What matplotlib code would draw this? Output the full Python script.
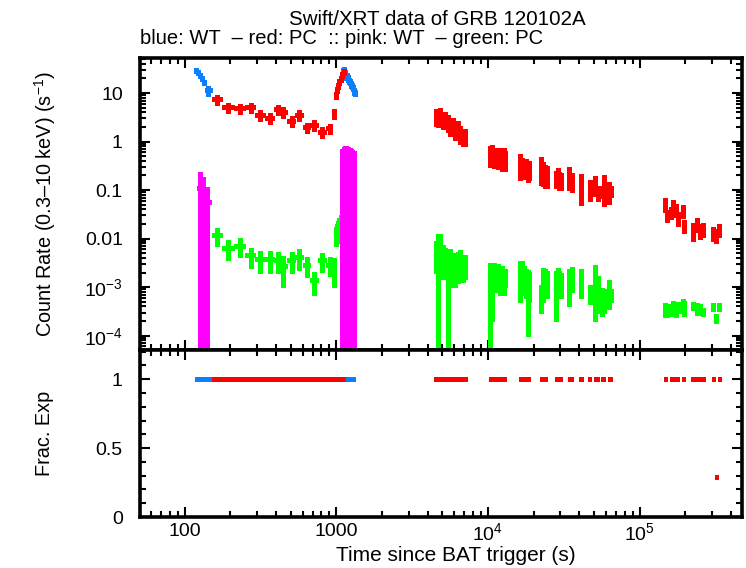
import numpy as np
import matplotlib
matplotlib.use("Agg")
import matplotlib.pyplot as plt
from matplotlib.ticker import LogLocator, NullFormatter, FixedLocator, FixedFormatter, MultipleLocator

plt.rcParams['font.family'] = ['Liberation Sans', 'DejaVu Sans']
plt.rcParams['mathtext.fontset'] = 'custom'
plt.rcParams['mathtext.rm'] = 'Liberation Sans'
plt.rcParams['mathtext.it'] = 'Liberation Sans:italic'
plt.rcParams['mathtext.bf'] = 'Liberation Sans:bold'
plt.rcParams['mathtext.default'] = 'regular'

# ---------------- data ----------------
title = "Swift/XRT data of GRB 120102A"
subtitle = "blue: WT  \u2013 red: PC  :: pink: WT  \u2013 green: PC"
ylabel_top = "Count Rate (0.3\u201310 keV) (s$^{-1}$)"
ylabel_bot = "Frac. Exp"
xlabel = "Time since BAT trigger (s)"

x_ticks = [100, 1000, 1e4, 1e5]
x_ticklabels = ["100", "1000", "10$^{4}$", "10$^{5}$"]
y_ticks = [1e-4, 1e-3, 0.01, 0.1, 1, 10]
y_ticklabels = ["10$^{-4}$", "10$^{-3}$", "0.01", "0.1", "1", "10"]
fe_ticks = [0, 0.5, 1]
fe_ticklabels = ["0", "0.5", "1"]

# WT (blue)
blue_start = [118, 121.5, 125, 128.5, 132, 135.5,
              1080, 1100, 1120, 1140, 1160, 1180, 1200, 1220, 1240, 1260, 1280, 1300, 1320]
blue_stop = [121.5, 125, 128.5, 132, 135.5, 151,
             1100, 1120, 1140, 1160, 1180, 1200, 1220, 1240, 1260, 1280, 1300, 1320, 1340]
blue_t = [119.7, 123.2, 126.7, 130.2, 133.7, 143,
          1090, 1110, 1130, 1150, 1170, 1190, 1210, 1230, 1250, 1270, 1290, 1310, 1330]
blue_rate = [30, 27, 23, 20, 17, 11.5,
             22, 28, 30, 26, 22, 20, 18, 17, 15, 14, 13, 11, 10]
blue_err = [3.5, 3.2, 2.8, 2.4, 2.0, 2.8,
            3.3, 4.2, 4.5, 3.9, 3.3, 3.0, 2.7, 2.6, 2.3, 2.1, 2.0, 1.7, 1.5]
blue_fracexp = [1, 1, 1, 1, 1, 1,
                1, 1, 1, 1, 1, 1, 1, 1, 1, 1, 1, 1, 1]

# PC bins (shared by red and green)
pc_start = [152, 178, 212, 252, 293, 340, 390, 430, 476, 538, 604, 676, 757, 853, 937,
            988, 1005, 1020, 1040, 1060, 1085, 1115,
            4440, 4610, 4780, 4960, 5140, 5330, 5530, 5740, 5960, 6190, 6430, 6680, 6950,
            10200, 10500, 10820, 11140, 11480, 11820, 12170, 12530, 12860,
            16100, 16550, 17000, 17500, 18000, 18500,
            22100, 22750, 23400, 24050,
            27700, 28450, 29200, 29950,
            33900, 35100,
            39900,
            45800,
            50100, 52100,
            55800, 57500,
            61900, 63900,
            145000, 148700,
            159000, 164500, 170000, 175500,
            191000, 195500,
            218000, 231000, 244000, 257000,
            299000, 313000, 328000]
pc_stop = [178, 212, 252, 293, 340, 390, 430, 476, 538, 604, 676, 757, 853, 937, 988,
           1005, 1020, 1040, 1060, 1085, 1115, 1150,
           4610, 4780, 4960, 5140, 5330, 5530, 5740, 5960, 6190, 6430, 6680, 6950, 7260,
           10500, 10820, 11140, 11480, 11820, 12170, 12530, 12860, 13200,
           16550, 17000, 17500, 18000, 18500, 19000,
           22750, 23400, 24050, 24700,
           28450, 29200, 29950, 30700,
           35100, 36300,
           42400,
           47900,
           52100, 54100,
           57500, 59200,
           63900, 65900,
           148700, 152500,
           164500, 170000, 175500, 181000,
           195500, 200000,
           231000, 244000, 257000, 270000,
           313000, 328000, 343000]
pc_t = [163, 194, 232, 273, 314, 366, 415, 447, 508, 570, 638, 716, 801, 908, 966,
        996, 1012, 1030, 1050, 1072, 1100, 1132,
        4525, 4695, 4870, 5050, 5235, 5430, 5635, 5850, 6075, 6310, 6555, 6815, 7105,
        10350, 10660, 10980, 11310, 11650, 11995, 12350, 12695, 13030,
        16325, 16775, 17250, 17750, 18250, 18750,
        22425, 23075, 23725, 24375,
        28075, 28825, 29575, 30325,
        34500, 35700,
        41150,
        46850,
        51100, 53100,
        56650, 58350,
        62900, 64900,
        146850, 150600,
        161750, 167250, 172750, 178250,
        193250, 197750,
        224500, 237500, 250500, 263500,
        306000, 320500, 335500]

red_rate = [7.4, 5.07, 4.84, 5.07, 3.52, 3.1, 4.61, 4.12, 2.69, 3.52, 1.96, 2.19, 1.59, 1.87, 3.81,
            9, 11.5, 14, 17, 20, 24, 27,
            3.4, 3.2, 3.6, 2.9, 3.0, 2.6, 2.1, 2.2, 1.8, 1.9, 1.5, 1.3, 1.3,
            0.55, 0.6, 0.5, 0.52, 0.48, 0.5, 0.45, 0.5, 0.45,
            0.36, 0.32, 0.3, 0.3, 0.27, 0.28,
            0.3, 0.25, 0.22, 0.21,
            0.18, 0.2, 0.17, 0.16,
            0.2, 0.16,
            0.13,
            0.11,
            0.135, 0.09,
            0.095, 0.127,
            0.1, 0.097,
            0.0525, 0.031,
            0.035, 0.047, 0.04, 0.027,
            0.038, 0.0185,
            0.015, 0.02, 0.015, 0.016,
            0.013, 0.012, 0.0155]
red_err = [1.85, 1.27, 1.21, 1.27, 0.88, 0.78, 1.15, 1.03, 0.67, 0.88, 0.49, 0.55, 0.40, 0.47, 0.95,
           1.3, 1.6, 2.0, 2.4, 2.8, 3.3, 3.8,
           1.3, 1.2, 1.4, 1.1, 1.1, 1.0, 0.8, 0.85, 0.7, 0.75, 0.6, 0.5, 0.5,
           0.25, 0.27, 0.22, 0.23, 0.21, 0.22, 0.2, 0.22, 0.2,
           0.2, 0.14, 0.13, 0.13, 0.12, 0.12,
           0.17, 0.13, 0.11, 0.1,
           0.07, 0.08, 0.07, 0.06,
           0.1, 0.07,
           0.08,
           0.05,
           0.06, 0.03,
           0.025, 0.08,
           0.048, 0.024,
           0.017, 0.0085,
           0.0097, 0.015, 0.012, 0.009,
           0.012, 0.0052,
           0.006, 0.006, 0.005, 0.005,
           0.004, 0.004, 0.0045]
red_fracexp = [1, 1, 1, 1, 1, 1, 1, 1, 1, 1, 1, 1, 1, 1, 1,
               1, 1, 1, 1, 1, 1, 1,
               1, 1, 1, 1, 1, 1, 1, 1, 1, 1, 1, 1, 1,
               1, 1, 1, 1, 1, 1, 1, 1, 1,
               1, 1, 1, 1, 1, 1,
               1, 1, 1, 1,
               1, 1, 1, 1,
               1, 1,
               1,
               1,
               1, 1,
               1, 1,
               1, 1,
               1, 1,
               1, 1, 1, 1,
               1, 1,
               1, 1, 1, 1,
               1, 0.29, 1]

green_rate = [0.0117, 0.0064, 0.0072, 0.0045, 0.0038, 0.0038, 0.0037, 0.0027, 0.0036, 0.0042, 0.0029, 0.0014, 0.0036, 0.0029, 0.0025,
              0.012, 0.014, 0.016, 0.019, 0.022, 0.02, 0.018,
              0.0055, 0.006, 0.0072, 0.0045, 0.0040, 0.0030, 0.0035, 0.0030, 0.0028, 0.0032, 0.0035, 0.0030, 0.0030,
              0.0015, 0.0016, 0.0020, 0.0018, 0.0019, 0.0016, 0.0017, 0.0015, 0.0017,
              0.0020, 0.0022, 0.0017, 0.0015, 0.0012, 0.0013,
              0.0007, 0.0015, 0.0016, 0.0014,
              0.0012, 0.0016, 0.0014, 0.0013,
              0.0014, 0.0017,
              0.0015,
              0.00078,
              0.0015, 0.0010,
              0.0006, 0.0006,
              0.00088, 0.0007,
              3.6e-4, 3.4e-4,
              3.5e-4, 4.2e-4, 3.6e-4, 3.9e-4,
              4.3e-4, 3.8e-4,
              4.2e-4, 3.7e-4, 3.6e-4, 3.1e-4,
              4.0e-4, 2.3e-4, 4.0e-4]
green_err = [0.0045, 0.0028, 0.0030, 0.0020, 0.0018, 0.0018, 0.0017, 0.0017, 0.0016, 0.0019, 0.0013, 0.0007, 0.0015, 0.0012, 0.0015,
             0.005, 0.006, 0.007, 0.008, 0.009, 0.008, 0.007,
             0.0035, 0.0065, 0.0050, 0.0030, 0.0025, 0.0032, 0.0025, 0.0020, 0.0018, 0.0020, 0.0022, 0.0017, 0.0015,
             0.0017, 0.0014, 0.0011, 0.0010, 0.0011, 0.0009, 0.0010, 0.0008, 0.0007,
             0.0015, 0.0012, 0.0010, 0.0009, 0.0011, 0.0008,
             0.0004, 0.0010, 0.0008, 0.0008,
             0.0010, 0.0009, 0.0008, 0.0007,
             0.0010, 0.0009,
             0.0009,
             0.00033,
             0.0013, 0.0007,
             0.00035, 0.0003,
             0.00052, 0.0002,
             1.2e-4, 1.0e-4,
             1.0e-4, 1.1e-4, 1.2e-4, 1.0e-4,
             1.3e-4, 1.3e-4,
             0.8e-4, 1.0e-4, 0.9e-4, 0.6e-4,
             0.75e-4, 0.5e-4, 0.75e-4]

# pink (WT, second series)
pink_start = [121, 130, 136, 1090, 1110, 1130, 1150, 1170, 1190, 1210, 1230, 1250, 1270, 1290]
pink_stop = [130, 136, 150, 1110, 1130, 1150, 1170, 1190, 1210, 1230, 1250, 1270, 1290, 1320]
pink_t = [126, 133, 140, 1100, 1120, 1140, 1160, 1180, 1200, 1220, 1240, 1260, 1280, 1305]
pink_rate = [0.11, 0.09, 0.056, 0.3, 0.35, 0.38, 0.4, 0.38, 0.36, 0.35, 0.34, 0.33, 0.32, 0.3]
pink_err = [0.13, 0.10, 0.06, 0.4, 0.42, 0.42, 0.42, 0.4, 0.4, 0.38, 0.38, 0.36, 0.36, 0.35]

# ---------------- styles ----------------
C_BLUE = "#0a80ff"
C_RED = "#ff0000"
C_PINK = "#ff00ff"
C_GREEN = "#00ff00"
LW = 2.3

W, H = 746, 568
fig = plt.figure(figsize=(W / 100, H / 100), dpi=100)
L, R = 139.5 / W, 741.5 / W
y_top, y_mid, y_bot = 1 - 58.3 / H, 1 - 350.3 / H, 1 - 517 / H
ax1 = fig.add_axes([L, y_mid, R - L, y_top - y_mid])
ax2 = fig.add_axes([L, y_bot, R - L, y_mid - y_bot], sharex=ax1)


def draw_series(ax, t, start, stop, rate, err, color):
    t = np.asarray(t, float)
    rate = np.asarray(rate, float)
    err = np.asarray(err, float)
    lo = rate - err
    lo = np.where(lo > 0, lo, 1e-12)
    ax.vlines(t, lo, rate + err, colors=color, lw=LW, antialiased=False)
    ax.hlines(rate, start, stop, colors=color, lw=LW, antialiased=False)


draw_series(ax1, blue_t, blue_start, blue_stop, blue_rate, blue_err, C_BLUE)
draw_series(ax1, pc_t, pc_start, pc_stop, red_rate, red_err, C_RED)
draw_series(ax1, pc_t, pc_start, pc_stop, green_rate, green_err, C_GREEN)
draw_series(ax1, pink_t, pink_start, pink_stop, pink_rate, pink_err, C_PINK)

ax2.hlines(blue_fracexp, blue_start, blue_stop, colors=C_BLUE, lw=LW, antialiased=False)
ax2.hlines(red_fracexp, pc_start, pc_stop, colors=C_RED, lw=LW, antialiased=False)

ax1.set_xscale('log')
ax1.set_yscale('log')
ax1.set_xlim(50.5, 4.7e5)
ax1.set_ylim(5.0e-5, 52)
ax2.set_ylim(0, 1.21)

FS = 14
for ax in (ax1, ax2):
    for s in ax.spines.values():
        s.set_linewidth(2.6)
    ax.tick_params(which='both', direction='in', top=True, right=True,
                   width=1.5, labelsize=FS, pad=4)
    ax.tick_params(which='major', length=7.5)
    ax.tick_params(which='minor', length=4)
    ax.xaxis.set_major_locator(FixedLocator(x_ticks))
    ax.xaxis.set_minor_locator(LogLocator(base=10, subs=np.arange(2, 10), numticks=20))
    ax.xaxis.set_minor_formatter(NullFormatter())

ax1.yaxis.set_major_locator(FixedLocator(y_ticks))
ax1.yaxis.set_major_formatter(FixedFormatter(y_ticklabels))
ax1.yaxis.set_minor_locator(LogLocator(base=10, subs=np.arange(2, 10), numticks=20))
ax1.yaxis.set_minor_formatter(NullFormatter())
ax1.tick_params(axis='x', labelbottom=False)
ax1.tick_params(axis='y', pad=12)

ax2.xaxis.set_major_formatter(FixedFormatter(x_ticklabels))
ax2.yaxis.set_major_locator(FixedLocator(fe_ticks))
ax2.yaxis.set_major_formatter(FixedFormatter(fe_ticklabels))
ax2.yaxis.set_minor_locator(MultipleLocator(0.1))
ax2.tick_params(axis='y', pad=12)

fig.text((L + R) / 2 - 3 / W, 1 - 25 / H, title, ha='center', va='baseline', fontsize=14.8)
fig.text(L, 1 - 44 / H, subtitle, ha='left', va='baseline', fontsize=14.5)
fig.text(45 / W, (y_top + y_mid) / 2, ylabel_top, rotation=90, ha='center', va='center', fontsize=14.3)
fig.text(45 / W, (y_mid + y_bot) / 2, ylabel_bot, rotation=90, ha='center', va='center', fontsize=14.3)
fig.text(456 / W, 1 - 561 / H, xlabel, ha='center', va='baseline', fontsize=15)

fig.savefig("out.png", dpi=100)
